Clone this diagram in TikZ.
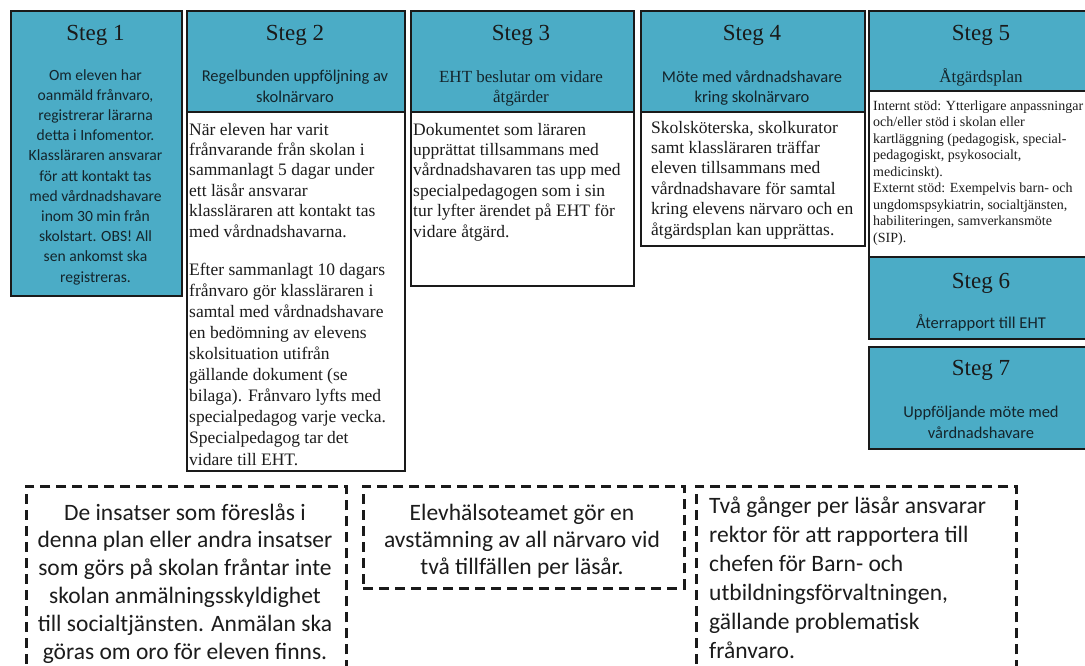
\documentclass[tikz,border=0pt]{standalone}
\usepackage{fontspec}
\setmainfont{Liberation Serif}
\newfontfamily\carl{Carlito}
\definecolor{tealfill}{HTML}{4BACC6}
\definecolor{bord}{HTML}{1A1A1A}
\definecolor{subc}{HTML}{14252C}
\definecolor{bodyc}{HTML}{1C1C1C}
\tikzset{
  hdr/.style={draw=bord, line width=2.4pt, fill=tealfill, inner sep=0pt, anchor=north west},
  bodybox/.style={draw=bord, line width=1.7pt, fill=white, inner sep=0pt, anchor=north west},
  note/.style={draw=bord, line width=2.6pt, dash pattern=on 10pt off 6pt, inner sep=0pt, anchor=north west},
  ttl/.style={font=\fontsize{23}{27}\selectfont, text=bord, inner sep=0pt, anchor=base},
  subc/.style={font=\carl\fontsize{16.5}{21}\selectfont, align=center, inner sep=0pt, anchor=base, text=subc},
  subt/.style={font=\fontsize{17}{20}\selectfont, align=center, inner sep=0pt, anchor=base, text=subc},
  bodyt/.style={font=\fontsize{17.5}{20.4}\selectfont, align=left, inner sep=0pt, anchor=base west, text=bodyc},
  smallt/.style={font=\fontsize{14}{16.5}\selectfont, align=left, inner sep=0pt, anchor=base west, text=bodyc},
  notet/.style={font=\carl\fontsize{23.5}{27.8}\selectfont, inner sep=0pt, text=bodyc}
}
\begin{document}
\begin{tikzpicture}[x=1pt,y=-1pt]
\useasboundingbox (0,0) rectangle (1085,665);
\fill[white] (0,0) rectangle (1085,665);
% body boxes
\node[bodybox, minimum width=218, minimum height=359] (s2b) at (186,111) {};
\node[bodybox, minimum width=223, minimum height=174] (s3b) at (410,111) {};
\node[bodybox, minimum width=224, minimum height=134] (s4b) at (640,111) {};
\node[bodybox, minimum width=226, minimum height=166] (s5b) at (868,90) {};
% teal boxes
\node[hdr, minimum width=171, minimum height=285] (s1) at (10,10) {};
\node[hdr, minimum width=218, minimum height=101] (s2h) at (186,10) {};
\node[hdr, minimum width=223, minimum height=101] (s3h) at (410,10) {};
\node[hdr, minimum width=224, minimum height=101] (s4h) at (640,10) {};
\node[hdr, minimum width=226, minimum height=80] (s5h) at (868,10) {};
\node[hdr, minimum width=226, minimum height=82] (s6) at (868,256) {};
\node[hdr, minimum width=226, minimum height=102] (s7) at (868,346) {};
% titles
\node[ttl] (t1) at (95.5,40) {Steg 1};
\node[ttl] (t2) at (295,40) {Steg 2};
\node[ttl] (t3) at (521,40) {Steg 3};
\node[ttl] (t4) at (752,40) {Steg 4};
\node[ttl] (t5) at (981,40) {Steg 5};
\node[ttl] (t6) at (981,288) {Steg 6};
\node[ttl] (t7) at (981,375) {Steg 7};
% subtitles (anchor = baseline of last line)
\node[subc, font=\carl\fontsize{15.6}{20.2}\selectfont] (u1) at (95.5,282) {Om eleven har\\oanmäld frånvaro,\\registrerar lärarna\\detta i Infomentor.\\Klassläraren ansvarar\\för att kontakt tas\\med vårdnadshavare\\inom 30 min från\\skolstart. OBS! All\\sen ankomst ska\\registreras.};
\node[subc] (u2) at (295,102) {Regelbunden uppföljning av\\skolnärvaro};
\node[subt] (u3) at (521,102) {EHT beslutar om vidare\\åtgärder};
\node[subc, font=\carl\fontsize{16.5}{20.5}\selectfont] (u4) at (752,102.5) {Möte med vårdnadshavare\\kring skolnärvaro};
\node[subt] (u5) at (981,82) {Åtgärdsplan};
\node[subc] (u6) at (981,328) {Återrapport till EHT};
\node[subc] (u7) at (981,438) {Uppföljande möte med\\vårdnadshavare};
% body texts
\node[bodyt] (b2a) at (189,237) {När eleven har varit\\frånvarande från skolan i\\sammanlagt 5 dagar under\\ett läsår ansvarar\\klassläraren att kontakt tas\\med vårdnadshavarna.};
\node[bodyt, font=\fontsize{17.5}{21.1}\selectfont] (b2b) at (189,465) {Efter sammanlagt 10 dagars\\frånvaro gör klassläraren i\\samtal med vårdnadshavare\\en bedömning av elevens\\skolsituation utifrån\\gällande dokument (se\\bilaga). Frånvaro lyfts med\\specialpedagog varje vecka.\\Specialpedagog tar det\\vidare till EHT.};
\node[bodyt] (b3) at (413,237) {Dokumentet som läraren\\upprättat tillsammans med\\vårdnadshavaren tas upp med\\specialpedagogen som i sin\\tur lyfter ärendet på EHT för\\vidare åtgärd.};
\node[bodyt] (b4) at (651,235) {Skolsköterska, skolkurator\\samt klassläraren träffar\\eleven tillsammans med\\vårdnadshavare för samtal\\kring elevens närvaro och en\\åtgärdsplan kan upprättas.};
\node[smallt] (b5) at (873,242) {Internt stöd: Ytterligare anpassningar\\och/eller stöd i skolan eller\\kartläggning (pedagogisk, special-\\pedagogiskt, psykosocialt,\\medicinskt).\\Externt stöd: Exempelvis barn- och\\ungdomspsykiatrin, socialtjänsten,\\habiliteringen, samverkansmöte\\(SIP).};
% dashed notes
\node[note, minimum width=320, minimum height=200] (n1) at (25,485) {};
\node[note, minimum width=321, minimum height=102] (n2) at (362,485) {};
\node[note, minimum width=320, minimum height=200] (n3) at (695,485) {};
\node[notet, align=center, anchor=base] (m1) at (185,659) {De insatser som föreslås i\\denna plan eller andra insatser\\som görs på skolan fråntar inte\\skolan anmälningsskyldighet\\till socialtjänsten. Anmälan ska\\göras om oro för eleven finns.};
\node[notet, align=center, anchor=base, font=\carl\fontsize{23.5}{27}\selectfont] (m2) at (522,574) {Elevhälsoteamet gör en\\avstämning av all närvaro vid\\två tillfällen per läsår.};
\node[notet, align=left, anchor=base west, font=\carl\fontsize{23.5}{29}\selectfont] (m3) at (709,658) {Två gånger per läsår ansvarar\\rektor för att rapportera till\\chefen för Barn- och\\utbildningsförvaltningen,\\gällande problematisk\\frånvaro.};
\end{tikzpicture}
\end{document}
